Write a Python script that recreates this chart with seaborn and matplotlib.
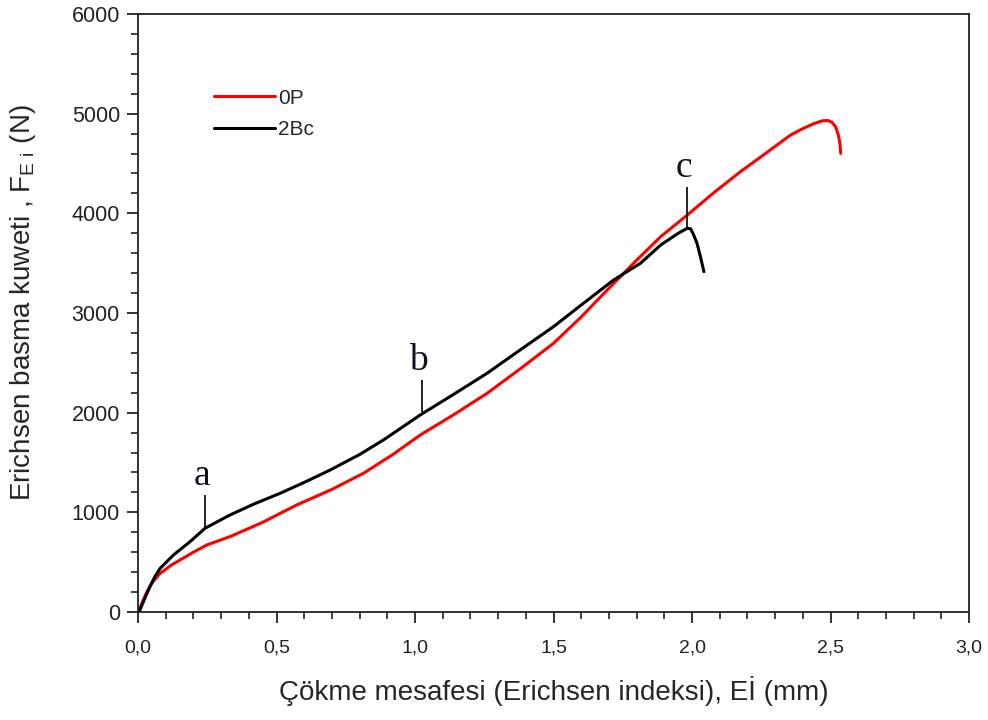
import matplotlib
matplotlib.use("Agg")
import matplotlib.pyplot as plt
import seaborn as sns
import pandas as pd
from matplotlib.ticker import MultipleLocator, FuncFormatter

# ---- data ----
red_x = [0, 0.01, 0.03, 0.05, 0.08, 0.12, 0.152, 0.2, 0.248, 0.332, 0.45, 0.573, 0.7,
         0.814, 0.92, 1.019, 1.14, 1.26, 1.38, 1.50, 1.60, 1.694, 1.80, 1.887, 1.983,
         2.08, 2.175, 2.27, 2.356, 2.40, 2.44, 2.47, 2.49, 2.505, 2.518, 2.528, 2.534, 2.537]
red_y = [0, 60, 190, 290, 388, 470, 522, 600, 672, 756, 900, 1074, 1230,
         1392, 1580, 1776, 1980, 2194, 2440, 2696, 2960, 3231, 3530, 3766, 3983,
         4210, 4418, 4610, 4786, 4850, 4900, 4928, 4932, 4915, 4870, 4790, 4700, 4602]

black_x = [0, 0.007, 0.025, 0.043, 0.06, 0.08, 0.128, 0.188, 0.242, 0.332, 0.42, 0.513,
           0.6, 0.694, 0.8, 0.886, 1.019, 1.14, 1.26, 1.38, 1.50, 1.60, 1.717, 1.814,
           1.887, 1.95, 1.983, 1.995, 2.005, 2.018, 2.03, 2.043]
black_y = [0, 20, 140, 254, 350, 438, 572, 706, 840, 973, 1085, 1191,
           1300, 1425, 1580, 1726, 1977, 2185, 2395, 2630, 2863, 3080, 3331, 3499,
           3682, 3800, 3850, 3845, 3790, 3700, 3570, 3415]

series_names = ["0P", "2Bc"]
series_colors = ["#ff0000", "#000000"]

ann_labels = ["a", "b", "c"]
ann_x = [0.242, 1.025, 1.983]
ann_y0 = [840, 2010, 3850]
ann_y1 = [1175, 2328, 4267]

x_ticks = [0.0, 0.5, 1.0, 1.5, 2.0, 2.5, 3.0]
y_ticks = [0, 1000, 2000, 3000, 4000, 5000, 6000]

xlabel = "Çökme mesafesi (Erichsen indeksi), Eİ (mm)"
ylabel = "Erichsen basma kuweti , F$_{\\mathregular{E\\ i}}$ (N)"

# ---- build frame ----
df = pd.concat([
    pd.DataFrame({"x": red_x, "y": red_y, "s": series_names[0]}),
    pd.DataFrame({"x": black_x, "y": black_y, "s": series_names[1]}),
], ignore_index=True)

sns.set_style("ticks")
plt.rcParams["font.family"] = ["Liberation Sans", "DejaVu Sans"]

fig = plt.figure(figsize=(9.88, 7.2), dpi=100)
ax = fig.add_axes([138 / 988, 1 - 612 / 720, 831 / 988, 598 / 720])

sns.lineplot(data=df, x="x", y="y", hue="s", palette=series_colors,
             sort=False, estimator=None, linewidth=2.2, ax=ax, legend=True)

ax.set_xlim(0, 3)
ax.set_ylim(0, 6000)
ax.set_xticks(x_ticks)
ax.set_yticks(y_ticks)
ax.xaxis.set_minor_locator(MultipleLocator(0.1))
ax.yaxis.set_minor_locator(MultipleLocator(200))
ax.xaxis.set_major_formatter(FuncFormatter(lambda v, p: f"{v:.1f}".replace(".", ",")))
ax.yaxis.set_major_formatter(FuncFormatter(lambda v, p: f"{int(v)}"))

for sp in ax.spines.values():
    sp.set_linewidth(1.3)
    sp.set_color("#222222")

ax.tick_params(which="major", direction="out", length=8, width=1.3, labelsize=14,
               colors="#222222", pad=6)
ax.tick_params(which="minor", direction="out", length=5, width=1.2, colors="#222222")
ax.tick_params(axis="x", which="major", pad=12)
ax.tick_params(axis="y", which="major", labelsize=15.5, pad=5)

ax.set_xlabel(xlabel, fontsize=20, labelpad=14)
ax.set_ylabel(ylabel, fontsize=20)
ax.yaxis.set_label_coords(-0.1204, 0.5176)

# annotations
for lab, xx, y0, y1 in zip(ann_labels, ann_x, ann_y0, ann_y1):
    ax.vlines(xx, y0, y1, color="black", linewidth=1.2)
    ax.text(xx - 0.012, y1 + 20, lab, family="Liberation Serif", fontsize=27,
            ha="center", va="bottom", color="#101020")

leg = ax.legend(loc="upper left", bbox_to_anchor=(0.092, 0.8754), frameon=False,
                fontsize=15, handlelength=2.9, handletextpad=0.15, labelspacing=0.62,
                borderpad=0, borderaxespad=0)
for l in leg.get_lines():
    l.set_linewidth(2.2)

fig.savefig("out.png", dpi=100)
